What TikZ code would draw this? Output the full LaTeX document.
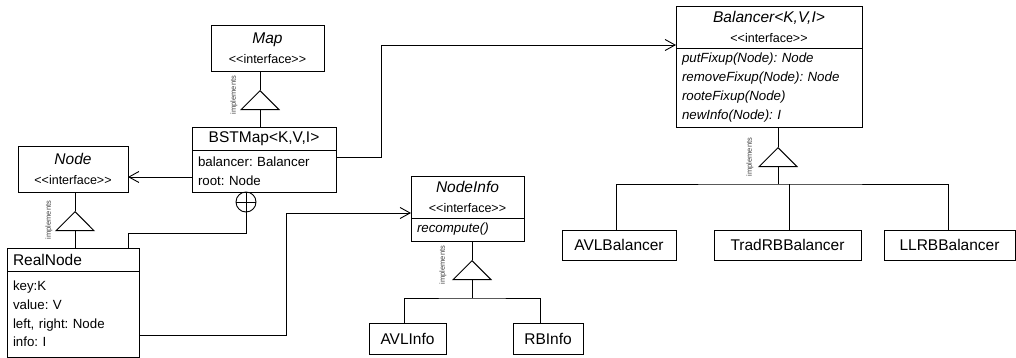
\documentclass[tikz,border=0pt]{standalone}
\usepackage{fontspec}
\setmainfont{Liberation Sans}[Ligatures=TeXOff]
\usetikzlibrary{arrows.meta, positioning, shapes.geometric}
\frenchspacing
\newcommand{\iface}{{\fontsize{12.5}{13}\selectfont <<interface>>}}
\tikzset {
  classhead/.style = {draw, line width=0.9pt, inner sep=0pt, outer sep=0pt, align=center, font=\fontsize{15.5}{19.5}\selectfont},
  classbody/.style = {draw, line width=0.9pt, inner xsep=6pt, inner ysep=0pt, outer sep=0pt, align=left, text width=#1, font=\fontsize{13.3}{18.8}\selectfont},
  line/.style = {line width=0.9pt},
  assoc/.style = {line width=0.9pt, -{Straight Barb[length=10pt, width=11pt, line width=0.9pt]}},
  impltri/.style = {draw, line width=0.9pt, isosceles triangle, isosceles triangle apex angle=90, shape border rotate=90, inner sep=0pt, minimum width=38pt, anchor=apex},
  impltext/.style = {rotate=90, inner sep=0pt, font=\fontsize{7.5}{8}\selectfont, text=black!75},
  nested/.style = {draw, circle, line width=0.9pt, minimum size=20pt, inner sep=0pt,
    path picture={\draw[line width=0.9pt] (path picture bounding box.north) -- (path picture bounding box.south) (path picture bounding box.west) -- (path picture bounding box.east);}}
}

\begin{document}
\begin{tikzpicture}[x=1pt, y=-1pt]
  \useasboundingbox (0,0) rectangle (1016,358);

  % interfaces
  \node[classhead, minimum width=113pt, minimum height=46pt, anchor=north west] (map) at (211,25) {\textit{Map}\\\iface};
  \node[classhead, minimum width=110pt, minimum height=46pt, anchor=north west] (node) at (18,146) {\textit{Node}\\\iface};
  \node[classhead, minimum width=113pt, minimum height=42pt, anchor=north west] (info) at (411,176) {\textit{NodeInfo}\\\iface};
  \node[classbody=101pt, minimum height=23pt, below=0pt of info] (infob) {\itshape recompute()};
  \node[classhead, minimum width=186pt, minimum height=42pt, anchor=north west] (bal) at (676,6) {\textit{Balancer<K,V,I>}\\\iface};
  \node[classbody=174pt, minimum height=79pt, below=0pt of bal] (balb) {\itshape putFixup(Node): Node\\removeFixup(Node): Node\\rooteFixup(Node)\\newInfo(Node): I};

  % classes
  \node[classhead, minimum width=144pt, minimum height=23pt, anchor=north west] (bst) at (192,127) {BSTMap<K,V,I>};
  \node[classbody=132pt, minimum height=42pt, below=0pt of bst] (bstb) {balancer: Balancer\\root: Node};
  \node[classhead, text width=120pt, align=left, inner xsep=6pt, minimum height=23pt, anchor=north west] (real) at (7,248) {RealNode};
  \node[classbody=120pt, minimum height=86pt, below=0pt of real] (realb) {key:K\\value: V\\left, right: Node\\info: I};

  \node[classhead, minimum width=77pt, minimum height=31pt, anchor=north west] (avlinfo) at (369,323) {AVLInfo};
  \node[classhead, minimum width=70pt, minimum height=31pt, anchor=north west] (rbinfo) at (513,323) {RBInfo};
  \node[classhead, minimum width=114pt, minimum height=30pt, anchor=north west] (avlbal) at (562,230) {AVLBalancer};
  \node[classhead, minimum width=147pt, minimum height=30pt, anchor=north west] (tradbal) at (714,230) {TradRBBalancer};
  \node[classhead, minimum width=131pt, minimum height=30pt, anchor=north west] (llrbbal) at (884,230) {LLRBBalancer};

  % implements
  \node[impltri] (mapTri) at (260,90) {};
  \node[impltri] (nodeTri) at (75,211) {};
  \node[impltri] (infoTri) at (472,260) {};
  \node[impltri] (balTri) at (778,147) {};
  \node[impltext] (mapImpl) at (234,95) {implements};
  \node[impltext] (nodeImpl) at (49,220) {implements};
  \node[impltext] (infoImpl) at (443,265) {implements};
  \node[impltext] (balImpl) at (750,157) {implements};
  \coordinate (infoBus) at (472,298);
  \coordinate (balBus) at (778,184);

  \node[nested] (nest) at (246,202) {};

  \draw[line] (mapTri.apex) -- (mapTri.apex |- map.south);
  \draw[line] (mapTri.lower side) -- (mapTri.lower side |- bst.north);
  \draw[line] (nodeTri.apex) -- (nodeTri.apex |- node.south);
  \draw[line] (nodeTri.lower side) -- (nodeTri.lower side |- real.north);
  \draw[line] (infoTri.apex) -- (infoTri.apex |- infob.south);
  \draw[line] (infoTri.lower side) -- (infoBus);
  \draw[line] ([xshift=-3.5pt]avlinfo.north) |- (infoBus) -| ([xshift=-8pt]rbinfo.north);
  \draw[line] (balTri.apex) -- (balTri.apex |- balb.south);
  \draw[line] (balTri.lower side) -- (balBus);
  \draw[line] ([xshift=-3pt]avlbal.north) |- (balBus) -| ([xshift=-1.5pt]llrbbal.north);
  \draw[line] ([xshift=1.5pt]tradbal.north) -- ([xshift=1.5pt]tradbal.north |- balBus);

  \draw[assoc] ([yshift=-6pt]bstb.west) -- ([yshift=-6pt]bstb.west -| node.east);
  \draw[assoc] ([yshift=-7pt]bstb.north east) -- ++(45,0) |- ([yshift=3pt]bal.south west);
  \draw[line] (nest.south) -- ++(0,21) -| ([xshift=-11pt]real.north east);
  \draw[assoc] ([yshift=-21pt]realb.east) -- ++(147,0) |- ([yshift=5pt]info.south west);

\end{tikzpicture}
\end{document}
